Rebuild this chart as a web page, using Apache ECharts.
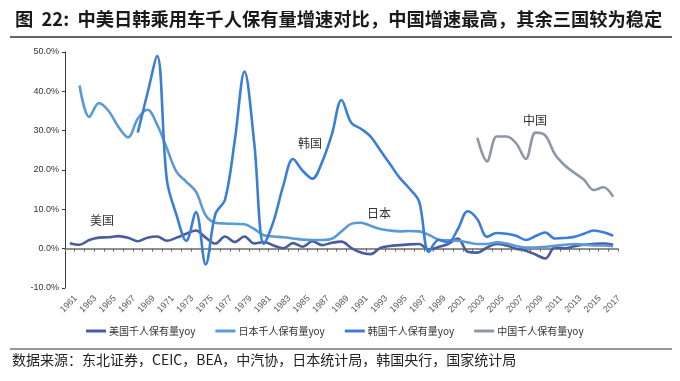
<!DOCTYPE html>
<html>
<head>
<meta charset="utf-8">
<script src="https://cdn.jsdelivr.net/npm/echarts@6/dist/echarts.min.js"></script>
<style>
html,body{margin:0;padding:0;background:#fff;}
#c{width:680px;height:381px;}
</style>
</head>
<body>
<div id="c"></div>
<script>
const years = ['1961','1962','1963','1964','1965','1966','1967','1968','1969','1970','1971','1972','1973','1974','1975','1976','1977','1978','1979','1980','1981','1982','1983','1984','1985','1986','1987','1988','1989','1990','1991','1992','1993','1994','1995','1996','1997','1998','1999','2000','2001','2002','2003','2004','2005','2006','2007','2008','2009','2010','2011','2012','2013','2014','2015','2016','2017'];

const usYoy = [1.4,1.0,2.2,2.8,2.9,3.2,2.8,1.9,2.8,3.1,2.0,2.8,3.8,4.6,2.8,1.3,3.1,1.7,3.1,1.3,1.7,0.8,0.1,1.4,0.5,1.9,0.9,1.5,1.8,0.2,-1.0,-1.4,0.2,0.7,0.9,1.1,1.2,-0.2,0.4,1.2,2.6,-0.8,-1.0,0.3,1.2,0.8,0.0,-0.5,-1.5,-2.5,0.3,0.1,0.6,1.0,1.2,1.3,1.0];

const japanYoy = [null,41.5,33.5,37.0,35.0,31.0,28.3,33.0,35.3,31.5,25.5,19.5,17.0,14.5,8.5,6.6,6.4,6.3,6.2,5.0,3.4,3.1,2.9,2.6,2.3,2.2,2.2,2.5,4.4,6.3,6.6,5.8,5.0,4.6,4.4,4.5,4.4,3.5,2.3,2.1,2.0,1.6,1.2,1.2,1.6,1.3,0.7,0.3,0.3,0.5,0.7,1.0,1.2,1.0,0.8,0.8,0.6];

const koreaYoy = [null,null,null,null,null,null,null,29.5,39.5,49.0,17.5,8.5,2.0,9.3,-4.0,8.8,12.5,27.5,45.0,27.0,1.2,7.0,16.0,22.8,19.8,17.8,22.0,29.0,37.8,32.0,30.5,28.5,25.0,21.5,18.0,15.3,12.0,-0.8,2.2,1.6,5.0,9.5,7.5,3.0,4.0,3.8,3.3,2.2,3.2,4.1,2.6,2.7,3.0,3.8,4.6,4.2,3.3];

const chinaYoy = [null,null,null,null,null,null,null,null,null,null,null,null,null,null,null,null,null,null,null,null,null,null,null,null,null,null,null,null,null,null,null,null,null,null,null,null,null,null,null,null,null,null,28.2,22.2,28.5,28.5,26.8,22.8,29.5,28.8,24.0,21.2,19.3,17.5,14.9,15.6,13.2];

const seriesNames = ['美国千人保有量yoy','日本千人保有量yoy','韩国千人保有量yoy','中国千人保有量yoy'];
const seriesColors = ['#4B5C9E','#5C9AD4','#3A7FD5','#8D97A8'];
const yTicks = [-10,0,10,20,30,40,50];

const chart = echarts.init(document.getElementById('c'), null, {renderer:'canvas'});
const font = '"Noto Sans CJK SC","Liberation Sans",sans-serif';

function mk(i, data){
  return {
    name: seriesNames[i], type:'line', data: data, smooth: 0.35,
    showSymbol:false, symbol:'none', connectNulls:false,
    lineStyle:{color:seriesColors[i], width:2.6},
    itemStyle:{color:seriesColors[i]},
    xAxisIndex:0, yAxisIndex:0, z: 3+i
  };
}

chart.setOption({
  animation:false,
  backgroundColor:'#fff',
  grid:[{left:65, right:62, top:52, bottom:93, containLabel:false},
        {left:71, right:56, top:52, bottom:93, containLabel:false}],
  xAxis:[{
    type:'category', data: years, boundaryGap:true, gridIndex:0,
    axisLine:{onZero:true, lineStyle:{color:'#6b6b6b', width:1.5}},
    axisTick:{show:true, inside:false, length:3, interval:0, lineStyle:{color:'#6b6b6b'}},
    axisLabel:{show:false}, splitLine:{show:false}
  },{
    type:'category', data: years, boundaryGap:true, gridIndex:1, position:'bottom',
    axisLine:{show:false}, axisTick:{show:false}, splitLine:{show:false},
    axisLabel:{show:true, interval:1, rotate:45, margin:9, fontSize:9, color:'#595959', fontFamily:'"Liberation Sans",sans-serif'}
  }],
  yAxis:[{
    type:'value', min:yTicks[0], max:yTicks[yTicks.length-1], interval:10, gridIndex:0,
    axisLine:{show:true, lineStyle:{color:'#3a3a3a', width:1}},
    axisTick:{show:true, length:3, lineStyle:{color:'#3a3a3a'}},
    splitLine:{show:false},
    axisLabel:{formatter: v => v.toFixed(1)+'%', fontSize:9, color:'#333', margin:6, fontFamily:'"Liberation Sans",sans-serif'}
  },{
    type:'value', min:yTicks[0], max:yTicks[yTicks.length-1], gridIndex:1, show:false
  }],
  legend:{
    data: seriesNames, left:81, top:321, itemGap:20, itemWidth:20, itemHeight:3, icon:'rect',
    textStyle:{fontSize:10, color:'#333', fontFamily:font, padding:[0,0,0,-2]}
  },
  series:[mk(0,usYoy), mk(1,japanYoy), mk(2,koreaYoy), mk(3,chinaYoy)],
  graphic:[
    {type:'text', left:15, top:10, style:{text:'图  22:  中美日韩乘用车千人保有量增速对比，中国增速最高，其余三国较为稳定', font:'bold 18.3px '+font, fill:'#1a1a1a'}},
    {type:'line', shape:{x1:10,y1:37,x2:672,y2:37}, style:{stroke:'#333', lineWidth:1.5}},
    {type:'line', shape:{x1:10,y1:349,x2:672,y2:349}, style:{stroke:'#333', lineWidth:1.2}},
    {type:'text', left:12, top:353, style:{text:'数据来源：东北证券，CEIC，BEA，中汽协，日本统计局，韩国央行，国家统计局', font:'14px '+font, fill:'#222'}},
    {type:'text', left:90, top:214, style:{text:'美国', font:'12px '+font, fill:'#333'}},
    {type:'text', left:298, top:137, style:{text:'韩国', font:'12px '+font, fill:'#333'}},
    {type:'text', left:367, top:207, style:{text:'日本', font:'12px '+font, fill:'#333'}},
    {type:'text', left:523, top:114, style:{text:'中国', font:'12px '+font, fill:'#333'}}
  ]
});
</script>
</body>
</html>
